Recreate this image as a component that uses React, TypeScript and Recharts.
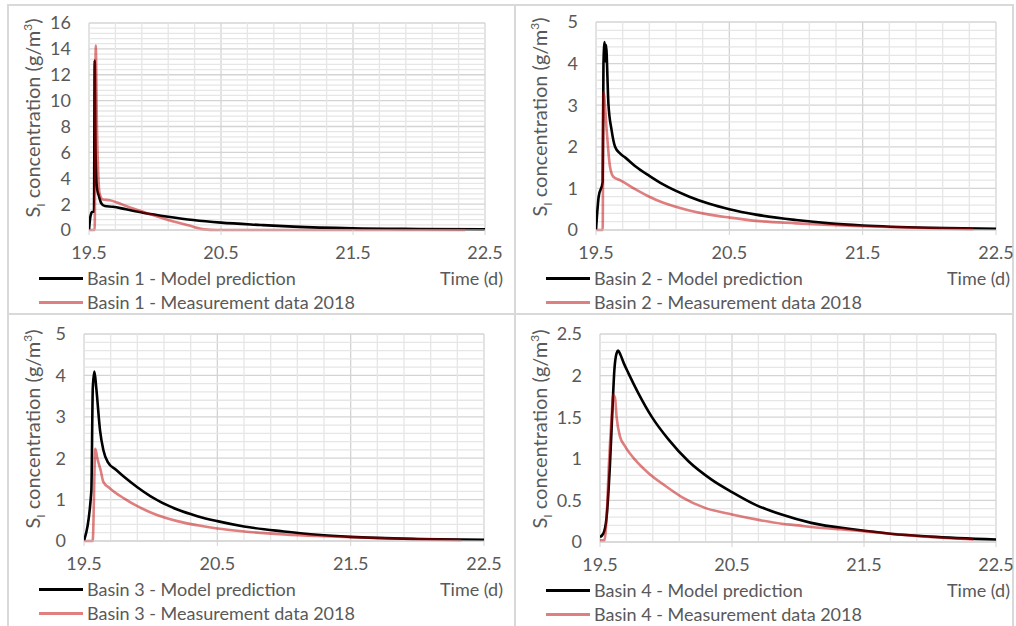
import React from 'react';
import { LineChart, Line, XAxis, YAxis, CartesianGrid, ReferenceLine } from 'recharts';

// ---- Time axis (days) ----
const xTicks = [19.5, 20.5, 21.5, 22.5];

// ---- Basin 1 ----
const b1ModelT = [19.5, 19.51, 19.523, 19.538, 19.543, 19.55, 19.56, 19.576, 19.594, 19.62, 19.68, 19.78, 19.91, 20.1, 20.29, 20.5, 20.8, 21.05, 21.5, 22.0, 22.5];
const b1ModelV = [0, 1.0, 1.4, 1.42, 13.1, 6.0, 3.3, 2.6, 2.05, 1.85, 1.8, 1.6, 1.34, 1.03, 0.77, 0.57, 0.39, 0.26, 0.13, 0.08, 0.05];
const b1MeasT = [19.5, 19.543, 19.551, 19.56, 19.568, 19.581, 19.606, 19.657, 19.72, 19.78, 19.91, 20.1, 20.29, 20.37, 20.47, 21.0, 21.5, 22.0, 22.35];
const b1MeasV = [0, 0, 14.25, 8.0, 4.9, 2.8, 2.36, 2.3, 2.1, 1.85, 1.41, 0.77, 0.26, 0.05, 0, 0, 0, 0, 0];
const b1YTicks = [0, 2, 4, 6, 8, 10, 12, 14, 16];

// ---- Basin 2 ----
const b2ModelT = [19.5, 19.52, 19.55, 19.556, 19.565, 19.57, 19.575, 19.593, 19.617, 19.643, 19.68, 19.72, 19.8, 19.9, 20.0, 20.2, 20.35, 20.5, 20.7, 21.0, 21.25, 21.5, 22.0, 22.5];
const b2ModelV = [0, 0.8, 1.15, 4.0, 4.52, 4.05, 4.45, 3.04, 2.4, 2.0, 1.84, 1.74, 1.52, 1.3, 1.1, 0.8, 0.63, 0.5, 0.37, 0.24, 0.16, 0.11, 0.055, 0.03];
const b2MeasT = [19.5, 19.55, 19.556, 19.58, 19.605, 19.63, 19.68, 19.8, 19.9, 20.0, 20.2, 20.35, 20.5, 20.7, 21.0, 21.25, 21.5, 22.0, 22.33];
const b2MeasV = [0, 0, 3.32, 2.4, 1.52, 1.28, 1.2, 0.97, 0.8, 0.66, 0.47, 0.37, 0.3, 0.22, 0.16, 0.12, 0.09, 0.045, 0.02];
const b2YTicks = [0, 1, 2, 3, 4, 5];

// ---- Basin 3 ----
const b3ModelT = [19.5, 19.555, 19.566, 19.578, 19.592, 19.62, 19.645, 19.68, 19.74, 19.8, 19.9, 20.0, 20.2, 20.35, 20.5, 20.7, 21.0, 21.25, 21.5, 22.0, 22.5];
const b3ModelV = [0, 1.2, 3.7, 4.09, 3.7, 2.68, 2.2, 1.9, 1.72, 1.55, 1.3, 1.08, 0.76, 0.6, 0.48, 0.35, 0.23, 0.15, 0.1, 0.05, 0.03];
const b3MeasT = [19.5, 19.565, 19.585, 19.6, 19.625, 19.645, 19.695, 19.8, 19.9, 20.0, 20.2, 20.35, 20.5, 20.7, 21.0, 21.25, 21.5, 22.0, 22.33];
const b3MeasV = [0, 0, 2.23, 2.0, 1.71, 1.43, 1.27, 1.03, 0.84, 0.69, 0.48, 0.38, 0.3, 0.23, 0.16, 0.12, 0.09, 0.045, 0.02];
const b3YTicks = [0, 1, 2, 3, 4, 5];

// ---- Basin 4 ----
const b4ModelT = [19.5, 19.525, 19.55, 19.576, 19.593, 19.609, 19.626, 19.638, 19.655, 19.68, 19.715, 19.79, 19.89, 20.02, 20.17, 20.345, 20.5, 20.675, 20.876, 21.1, 21.43, 21.7, 22.0, 22.5];
const b4ModelV = [0.06, 0.1, 0.3, 0.95, 1.55, 2.07, 2.27, 2.3, 2.25, 2.15, 2.03, 1.79, 1.51, 1.23, 0.97, 0.75, 0.6, 0.45, 0.33, 0.23, 0.15, 0.1, 0.065, 0.03];
const b4MeasT = [19.5, 19.533, 19.55, 19.568, 19.588, 19.6, 19.614, 19.626, 19.651, 19.69, 19.765, 19.866, 19.99, 20.12, 20.295, 20.5, 20.72, 20.876, 21.0, 21.1, 21.43, 21.7, 22.0, 22.33];
const b4MeasV = [0.02, 0.02, 0.3, 0.95, 1.5, 1.77, 1.73, 1.5, 1.27, 1.15, 0.99, 0.83, 0.68, 0.54, 0.41, 0.33, 0.26, 0.22, 0.2, 0.18, 0.14, 0.1, 0.06, 0.03];
const b4YTicks = [0, 0.5, 1, 1.5, 2, 2.5];

const FONT = "Lato, 'Open Sans', sans-serif";
const TEXT = '#595959';
const MAJOR = '#d4d4d4';
const MINOR = '#e6e6e6';
const MEAS_COLOR = '#c00000';

type Pt = { t: number; v: number };
const zip = (t: number[], v: number[]): Pt[] => t.map((x, i) => ({ t: x, v: v[i] }));

type Box = { x: number; y: number; w: number; h: number };
type Plot = { l: number; t: number; r: number; b: number };

interface PanelProps {
  basin: number;
  box: Box;
  plot: Plot;
  yTicks: number[];
  model: Pt[];
  meas: Pt[];
}

const X_AXIS_H = 30;

function Panel({ basin, box, plot, yTicks, model, meas }: PanelProps) {
  const yMax = yTicks[yTicks.length - 1];
  const yStep = yTicks[1] - yTicks[0];
  const minorX: number[] = [];
  for (let k = 1; k < 15; k++) if (k % 5 !== 0) minorX.push(+(19.5 + 0.2 * k).toFixed(2));
  const minorY: number[] = [];
  for (let i = 0; i < yTicks.length - 1; i++)
    for (let j = 1; j < 5; j++) minorY.push(+(yTicks[i] + (yStep * j) / 5).toFixed(3));

  const margin = {
    top: plot.t - box.y,
    right: box.x + box.w - plot.r,
    left: 0,
    bottom: box.y + box.h - plot.b - X_AXIS_H,
  };
  const yAxisW = plot.l - box.x;
  const legendY1 = plot.b - box.y + 48;
  const legendY2 = plot.b - box.y + 72;
  const labelCy = (plot.t + plot.b) / 2 - box.y - 9;

  const textStyle: React.CSSProperties = {
    position: 'absolute',
    fontFamily: FONT,
    fontSize: 18,
    color: TEXT,
    whiteSpace: 'nowrap',
    lineHeight: '20px',
  };

  return (
    <div style={{ position: 'absolute', left: box.x, top: box.y, width: box.w, height: box.h }}>
      <LineChart width={box.w} height={box.h} margin={margin}>
        <CartesianGrid stroke={MAJOR} strokeWidth={1.3} />
        {minorX.map((x) => (
          <ReferenceLine key={'mx' + x} x={x} stroke={MINOR} strokeWidth={1.3} />
        ))}
        {minorY.map((y) => (
          <ReferenceLine key={'my' + y} y={y} stroke={MINOR} strokeWidth={1.3} />
        ))}
        <XAxis
          type="number"
          dataKey="t"
          domain={[19.5, 22.5]}
          ticks={xTicks}
          interval={0}
          allowDataOverflow
          height={X_AXIS_H}
          stroke={MAJOR}
          tickSize={5}
          tickMargin={11}
          tick={{ fill: TEXT, fontSize: 18, fontFamily: FONT }}
        />
        <YAxis
          type="number"
          domain={[0, yMax]}
          ticks={yTicks}
          interval={0}
          width={yAxisW}
          axisLine={false}
          tickLine={false}
          tickSize={0}
          tickMargin={18}
          tick={{ fill: TEXT, fontSize: 18, fontFamily: FONT }}
        />
        <Line
          data={model}
          dataKey="v"
          type="monotone"
          stroke="#000000"
          strokeWidth={2.6}
          dot={false}
          activeDot={false}
          isAnimationActive={false}
        />
        <Line
          data={meas}
          dataKey="v"
          type="monotone"
          stroke={MEAS_COLOR}
          strokeOpacity={0.5}
          strokeWidth={2.6}
          dot={false}
          activeDot={false}
          isAnimationActive={false}
        />
      </LineChart>

      {/* rotated axis title */}
      <div
        style={{
          ...textStyle,
          left: 23 - 150,
          top: labelCy - 11,
          width: 300,
          lineHeight: '22px',
          textAlign: 'center',
          transform: 'rotate(-90deg)',
          fontSize: 20,
        }}
      >
        S<sub style={{ fontSize: 12, verticalAlign: 'sub', lineHeight: 0 }}>I</sub> concentration (g/m
        <sup style={{ fontSize: 12, verticalAlign: 'super', lineHeight: 0 }}>3</sup>)
      </div>

      {/* legend */}
      <div style={{ position: 'absolute', left: 30, top: legendY1 - 1.5, width: 44, height: 3, background: '#000' }} />
      <div
        style={{
          position: 'absolute',
          left: 30,
          top: legendY2 - 1.5,
          width: 44,
          height: 3,
          background: MEAS_COLOR,
          opacity: 0.5,
        }}
      />
      <div style={{ ...textStyle, left: 78, top: legendY1 - 10 }}>Basin {basin} - Model prediction</div>
      <div style={{ ...textStyle, left: 78, top: legendY2 - 10 }}>Basin {basin} - Measurement data 2018</div>

      {/* x axis title */}
      <div style={{ ...textStyle, right: box.w - 494, top: legendY1 - 10 }}>Time (d)</div>
    </div>
  );
}

const frameLine = (s: React.CSSProperties): React.CSSProperties => ({
  position: 'absolute',
  background: '#d9d9d9',
  ...s,
});

export default function App() {
  return (
    <div
      style={{
        position: 'absolute',
        left: 0,
        top: 0,
        width: 1016,
        height: 626,
        background: '#ffffff',
        overflow: 'hidden',
      }}
    >
      {/* panel frame */}
      <div style={frameLine({ left: 7, top: 4, width: 1007, height: 2 })} />
      <div style={frameLine({ left: 7, top: 4, width: 2, height: 622 })} />
      <div style={frameLine({ left: 1012, top: 4, width: 2, height: 622 })} />
      <div style={frameLine({ left: 514, top: 4, width: 2, height: 622 })} />
      <div style={frameLine({ left: 7, top: 313, width: 1007, height: 2 })} />

      <Panel
        basin={1}
        box={{ x: 9, y: 6, w: 505, h: 307 }}
        plot={{ l: 89, t: 23, r: 485, b: 230 }}
        yTicks={b1YTicks}
        model={zip(b1ModelT, b1ModelV)}
        meas={zip(b1MeasT, b1MeasV)}
      />
      <Panel
        basin={2}
        box={{ x: 516, y: 6, w: 500, h: 307 }}
        plot={{ l: 596, t: 22, r: 996, b: 230 }}
        yTicks={b2YTicks}
        model={zip(b2ModelT, b2ModelV)}
        meas={zip(b2MeasT, b2MeasV)}
      />
      <Panel
        basin={3}
        box={{ x: 9, y: 315, w: 505, h: 311 }}
        plot={{ l: 84, t: 334, r: 484, b: 541 }}
        yTicks={b3YTicks}
        model={zip(b3ModelT, b3ModelV)}
        meas={zip(b3MeasT, b3MeasV)}
      />
      <Panel
        basin={4}
        box={{ x: 516, y: 315, w: 500, h: 311 }}
        plot={{ l: 600, t: 334, r: 996, b: 542 }}
        yTicks={b4YTicks}
        model={zip(b4ModelT, b4ModelV)}
        meas={zip(b4MeasT, b4MeasV)}
      />
    </div>
  );
}
